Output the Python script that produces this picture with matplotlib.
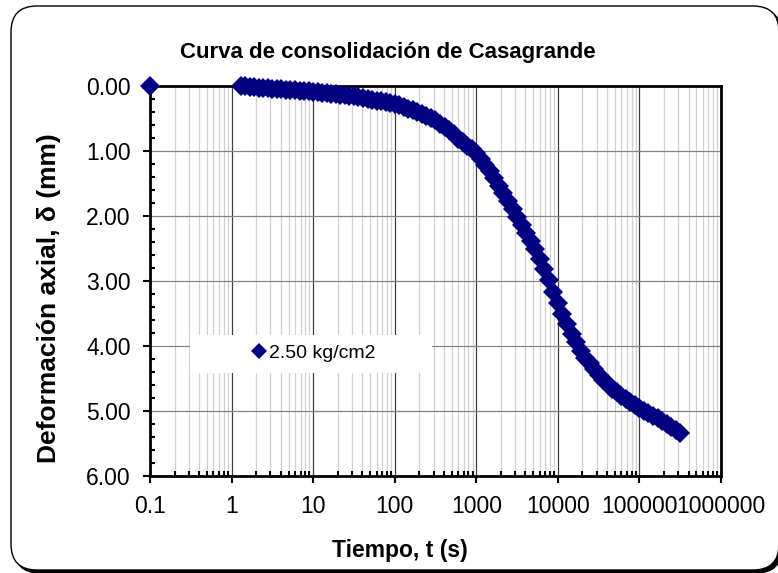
import numpy as np
import matplotlib
matplotlib.use('Agg')
import matplotlib.pyplot as plt
import matplotlib.patches as mpatches
from matplotlib.ticker import LogLocator, FixedLocator, MultipleLocator, FuncFormatter

plt.rcParams['font.family'] = ['Liberation Sans', 'DejaVu Sans']

# ============================================
# DATA
# ============================================

serie_label = '2.50 kg/cm2'

tiempo = [
    0.1,
    1.29, 1.47, 1.67, 1.90, 2.15, 2.45, 2.78, 3.16, 3.59, 4.08, 4.64, 5.27, 5.99, 6.81, 7.74, 8.80,
    10.0, 11.4, 12.9, 14.7, 16.7, 19.0, 21.5, 24.5, 27.8, 31.6, 35.9, 40.8, 46.4, 52.7, 59.9, 68.1, 77.4, 88.0,
    100, 114, 129, 147, 167, 190, 215, 245, 278, 316, 359, 408, 464, 527, 599, 681, 774, 880,
    1000, 1140, 1290, 1470, 1670, 1900, 2150, 2450, 2780, 3160, 3590, 4080, 4640, 5270, 5990, 6810, 7740, 8800,
    10000, 11400, 12900, 14700, 16700, 19000, 21500, 24500, 27800, 31600, 35900, 40800, 46400, 52700, 59900,
    68100, 77400, 88000,
    100000, 114000, 129000, 147000, 167000, 190000, 215000, 245000, 278000, 316000,
]

deformacion = [
    0.000,
    0.001, 0.007, 0.013, 0.022, 0.028, 0.034, 0.039, 0.045, 0.051, 0.056, 0.062, 0.067, 0.071, 0.076, 0.081, 0.085,
    0.090, 0.097, 0.105, 0.112, 0.120, 0.127, 0.136, 0.146, 0.155, 0.165, 0.178, 0.190, 0.203, 0.215, 0.228, 0.241,
    0.254, 0.267,
    0.280, 0.304, 0.328, 0.352, 0.376, 0.400, 0.430, 0.463, 0.497, 0.530, 0.583, 0.636, 0.689, 0.746, 0.814, 0.871,
    0.924, 0.977,
    1.030, 1.123, 1.215, 1.314, 1.424, 1.536, 1.652, 1.772, 1.892, 2.014, 2.137, 2.259, 2.387, 2.519, 2.668, 2.815,
    2.987, 3.168,
    3.350, 3.510, 3.668, 3.820, 3.948, 4.078, 4.183, 4.272, 4.361, 4.450, 4.520, 4.589, 4.659, 4.719, 4.768, 4.815,
    4.864, 4.912,
    4.960, 4.999, 5.038, 5.077, 5.115, 5.155, 5.198, 5.246, 5.293, 5.340,
]

x_ticks = [0.1, 1, 10, 100, 1000, 10000, 100000, 1000000]
x_ticklabels = ['0.1', '1', '10', '100', '1000', '10000', '100000', '1000000']
y_ticks = [0, 1, 2, 3, 4, 5, 6]

# ============================================
# FIGURE + FRAME
# ============================================

fig = plt.figure(figsize=(7.78, 5.73), dpi=100)
fig.patch.set_facecolor('white')

# rounded chart border with a dark shadow (pixel coords), kept behind the axes
shadow = mpatches.FancyBboxPatch((14, 0), 768, 564, boxstyle='round,pad=0,rounding_size=26',
                                 transform=None, facecolor='black', edgecolor='black', lw=1, zorder=-2)
frame = mpatches.FancyBboxPatch((11, 3), 768, 564, boxstyle='round,pad=0,rounding_size=26',
                                transform=None, facecolor='white', edgecolor='black', lw=1, zorder=-1)
fig.patches.extend([shadow, frame])

ax = fig.add_axes([150 / 778, 1 - 475.7 / 573, 571 / 778, 390 / 573])
ax.set_facecolor('white')

# ============================================
# PLOT
# ============================================

ax.plot(tiempo, deformacion, linestyle='none', marker='D', markersize=10.5,
        color='#000080', markeredgewidth=0, label=serie_label, clip_on=False, zorder=6)

ax.set_xscale('log')
ax.set_xlim(0.1, 1000000)
ax.set_ylim(6, 0)

ax.xaxis.set_major_locator(FixedLocator(x_ticks))
ax.set_xticklabels(x_ticklabels)
ax.xaxis.set_minor_locator(LogLocator(base=10, subs=np.arange(2, 10), numticks=20))
ax.xaxis.set_minor_formatter(FuncFormatter(lambda v, p: ''))

ax.yaxis.set_major_locator(FixedLocator(y_ticks))
ax.yaxis.set_major_formatter(FuncFormatter(lambda v, p: f'{v:.2f}'))
ax.yaxis.set_minor_locator(MultipleLocator(0.2))

ax.grid(which='major', axis='x', color='#404040', lw=0.9)
ax.grid(which='minor', axis='x', color='#d0d0d0', lw=0.9)
ax.grid(which='major', axis='y', color='#858585', lw=0.9)

for s in ax.spines.values():
    s.set_linewidth(2.0)
    s.set_color('black')

ax.tick_params(which='major', direction='out', length=5, width=1.5, labelsize=16.5, pad=9,
               top=False, right=False)
ax.tick_params(which='minor', direction='in', length=3.6, width=1.5, top=False, right=False)
ax.tick_params(axis='x', which='major', pad=9)

# legend box (white, no border)
ax.add_patch(mpatches.Rectangle((0.070, 0.263), 0.424, 0.098, transform=ax.transAxes,
                                facecolor='white', edgecolor='none', zorder=1.8))
leg = ax.legend(loc='center left', bbox_to_anchor=(0.179, 0.315), frameon=False, fontsize=14,
                handlelength=0.7, handletextpad=0.15, borderpad=0, borderaxespad=0, numpoints=1,
                markerscale=0.78)

# ============================================
# TEXTS
# ============================================

fig.text(388 / 778, 1 - 58 / 573, 'Curva de consolidación de Casagrande', ha='center', va='baseline',
         fontsize=16, fontweight='bold')
fig.text(400 / 778, 1 - 557 / 573, 'Tiempo, t (s)', ha='center', va='baseline',
         fontsize=16.5, fontweight='bold')
fig.text(49 / 778, 1 - 298 / 573, 'Deformación axial, δ (mm)', ha='center', va='center',
         rotation=90, fontsize=19, fontweight='bold')

fig.savefig('out.png', dpi=100)
print("Saved out.png")
